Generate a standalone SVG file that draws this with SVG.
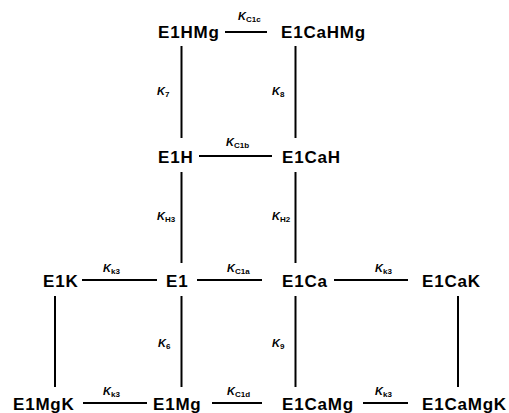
<svg xmlns="http://www.w3.org/2000/svg" width="509" height="413" viewBox="0 0 509 413">
<style>
.n{font-family:"Liberation Sans",Arial,sans-serif;font-weight:bold;font-size:17px;fill:#000;letter-spacing:0.8px}
.k{font-family:"Liberation Sans",Arial,sans-serif;font-weight:bold;font-style:italic;font-size:11px;fill:#000}
.s{font-style:normal;font-size:8px}
.c line{stroke:#000;stroke-width:2}
</style>
<rect width="509" height="413" fill="#fff"/>
<g class="c" id="connectors">
<line x1="225" y1="32" x2="267" y2="32"/>
<line x1="181.5" y1="46" x2="181.5" y2="138"/>
<line x1="295.5" y1="46" x2="295.5" y2="138"/>
<line x1="199" y1="156" x2="272" y2="156"/>
<line x1="181.5" y1="172" x2="181.5" y2="263"/>
<line x1="295.5" y1="172" x2="295.5" y2="263"/>
<line x1="82" y1="280" x2="157" y2="280"/>
<line x1="197" y1="280" x2="262" y2="280"/>
<line x1="334" y1="280" x2="408" y2="280"/>
<line x1="55" y1="296" x2="55" y2="387"/>
<line x1="181.5" y1="296" x2="181.5" y2="387"/>
<line x1="295.5" y1="296" x2="295.5" y2="387"/>
<line x1="458" y1="296" x2="458" y2="387"/>
<line x1="83" y1="403" x2="147" y2="403"/>
<line x1="212" y1="403" x2="262" y2="403"/>
<line x1="363" y1="403" x2="408" y2="403"/>
<text class="k" x="238" y="20">K<tspan class="s" dy="2">C1c</tspan></text>
<text class="k" x="157" y="95">K<tspan class="s" dy="2">7</tspan></text>
<text class="k" x="272" y="95">K<tspan class="s" dy="2">8</tspan></text>
<text class="k" x="226" y="146">K<tspan class="s" dy="2">C1b</tspan></text>
<text class="k" x="157" y="220">K<tspan class="s" dy="2">H3</tspan></text>
<text class="k" x="272" y="220">K<tspan class="s" dy="2">H2</tspan></text>
<text class="k" x="103" y="272">K<tspan class="s" dy="2">k3</tspan></text>
<text class="k" x="227" y="272">K<tspan class="s" dy="2">C1a</tspan></text>
<text class="k" x="375" y="272">K<tspan class="s" dy="2">k3</tspan></text>
<text class="k" x="158" y="347">K<tspan class="s" dy="2">6</tspan></text>
<text class="k" x="272" y="347">K<tspan class="s" dy="2">9</tspan></text>
<text class="k" x="103" y="395">K<tspan class="s" dy="2">k3</tspan></text>
<text class="k" x="227" y="395">K<tspan class="s" dy="2">C1d</tspan></text>
<text class="k" x="375" y="395">K<tspan class="s" dy="2">k3</tspan></text>
</g>
<g id="E1HMg"><text class="n" x="158" y="38">E1HMg</text></g>
<g id="E1CaHMg"><text class="n" x="281" y="38">E1CaHMg</text></g>
<g id="E1H"><text class="n" x="158" y="163">E1H</text></g>
<g id="E1CaH"><text class="n" x="282" y="163">E1CaH</text></g>
<g id="E1K"><text class="n" x="43" y="287">E1K</text></g>
<g id="E1"><text class="n" x="166" y="287">E1</text></g>
<g id="E1Ca"><text class="n" x="282" y="287">E1Ca</text></g>
<g id="E1CaK"><text class="n" x="422" y="287">E1CaK</text></g>
<g id="E1MgK"><text class="n" x="13" y="410">E1MgK</text></g>
<g id="E1Mg"><text class="n" x="153" y="410">E1Mg</text></g>
<g id="E1CaMg"><text class="n" x="282" y="410">E1CaMg</text></g>
<g id="E1CaMgK"><text class="n" x="422" y="410">E1CaMgK</text></g>
</svg>
